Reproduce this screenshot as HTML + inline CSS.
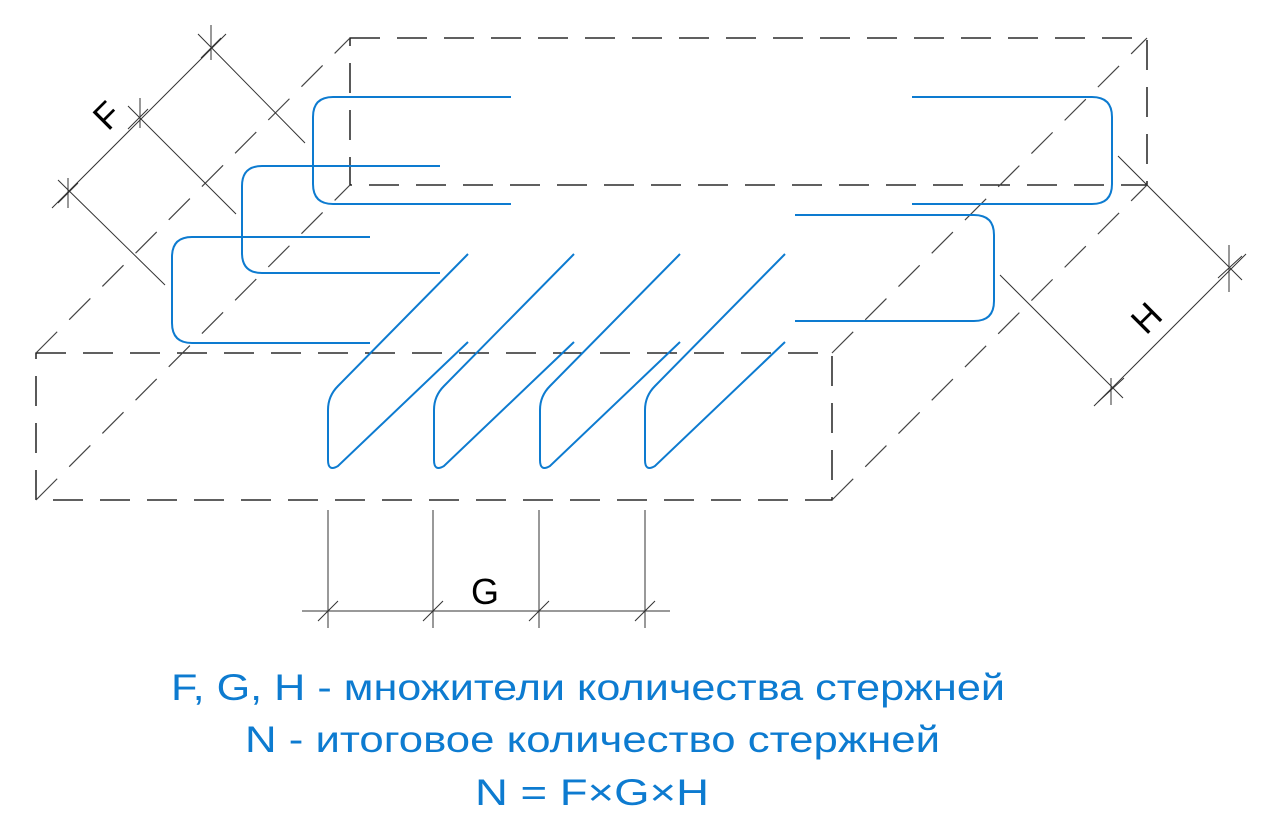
<!DOCTYPE html>
<html><head><meta charset="utf-8"><style>
body{margin:0;background:#fff;width:1263px;height:831px;overflow:hidden}
svg{display:block}
.d{stroke:#000;stroke-width:1.3;stroke-dasharray:30 17;fill:none}
.dg{stroke:#444;stroke-width:1.2;stroke-dasharray:30 17;fill:none}
.b{stroke:#0d7bd0;stroke-width:2;fill:none}
.t{stroke:#333;stroke-width:1;fill:none}
.cap{font-family:"Liberation Sans",sans-serif;font-size:37px;fill:#0d7bd0}
.lab{font-family:"Liberation Sans",sans-serif;font-size:36px;fill:#000}
</style></head><body>
<svg width="1263" height="831">
<g>
<path class="d" d="M36,353 H832 V500 H36 Z"/>
<path class="d" d="M350,38 H1147 V185 H350 Z"/>
<path class="dg" d="M36,353 L350,38 M36,500 L350,185 M832,353 L1147,38 M832,500 L1147,185"/>
</g>
<g>
<path class="b" d="M511,97 H333 Q313,97 313,117 V184 Q313,204 333,204 H511"/>
<path class="b" d="M440,166 H262 Q242,166 242,186 V253 Q242,273 262,273 H440"/>
<path class="b" d="M370,237 H192 Q172,237 172,257 V323 Q172,343 192,343 H370"/>
<path class="b" d="M912,97 H1092 Q1112,97 1112,117 V184 Q1112,204 1092,204 H912"/>
<path class="b" d="M795,215 H974 Q994,215 994,235 V301 Q994,321 974,321 H795"/>
</g>
<g>
<path class="b" d="M468,254 L338,386 Q328,396 328,410 V460 Q328,472 338,466 L468,342"/>
<path class="b" d="M574,254 L444,386 Q434,396 434,410 V460 Q434,472 444,466 L574,342"/>
<path class="b" d="M680,254 L550,386 Q540,396 540,410 V460 Q540,472 550,466 L680,342"/>
<path class="b" d="M785,254 L655,386 Q645,396 645,410 V460 Q645,472 655,466 L785,342"/>
</g>
<g>
<path class="t" d="M52,208 L226,34 M58,180 L165,285 M128,106 L236,214 M198,34 L305,143"/>
<path class="t" d="M68,178 V208 M140,98 V128 M211,25 V60 M58,203 L78,183 M128,129 L148,109 M201,58 L221,38"/>
<text class="lab" transform="translate(108,132) rotate(-45)">F</text>
</g>
<g>
<path class="t" d="M1094,406 L1246,254 M1000,275 L1123,398 M1118,156 L1242,280"/>
<path class="t" d="M1111,378 V405 M1229,245 V292 M1098,402 L1124,378 M1218,278 L1242,256"/>
<text class="lab" transform="translate(1146,336) rotate(-45)">H</text>
</g>
<g>
<path class="t" d="M302,611 H670 M328,510 V628 M433,510 V628 M539,510 V628 M645,510 V628"/>
<path class="t" d="M318,621 L338,601 M423,621 L443,601 M529,621 L549,601 M635,621 L655,601"/>
<text class="lab" x="471" y="604">G</text>
</g>
<text class="cap" x="171" y="700" textLength="834" lengthAdjust="spacingAndGlyphs">F, G, H - множители количества стержней</text>
<text class="cap" x="245" y="752" textLength="695" lengthAdjust="spacingAndGlyphs">N - итоговое количество стержней</text>
<text class="cap" x="475" y="805" textLength="234" lengthAdjust="spacingAndGlyphs">N = F×G×H</text>
</svg>
</body></html>
